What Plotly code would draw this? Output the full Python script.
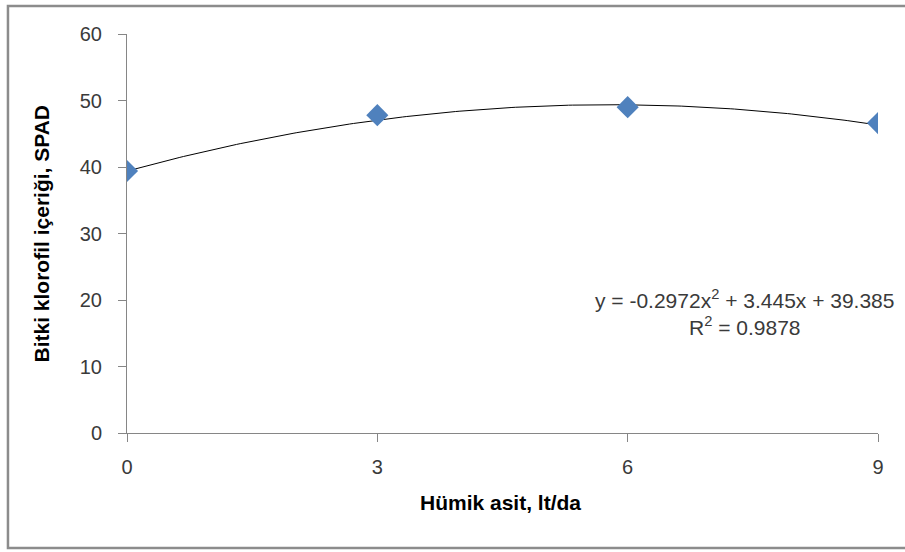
import numpy as np
import plotly.graph_objects as go

# Data
doses = [0, 3, 6, 9]
spad = [39.4, 47.8, 49.0, 46.6]
trend_coeffs = [-0.2972, 3.445, 39.385]  # quadratic trendline as shown on the chart
x_ticks = [0, 3, 6, 9]
y_ticks = [0, 10, 20, 30, 40, 50, 60]
x_title = "Hümik asit, lt/da"
y_title = "Bitki klorofil içeriği, SPAD"
eq_text = "y = -0.2972x<sup>2</sup> + 3.445x + 39.385<br>R<sup>2</sup> = 0.9878"

xs = np.linspace(min(doses), max(doses), 200)
ys = np.polyval(trend_coeffs, xs)

fig = go.Figure()
fig.add_trace(go.Scatter(x=xs, y=ys, mode="lines",
                         line=dict(color="black", width=1), hoverinfo="skip"))
fig.add_trace(go.Scatter(x=doses, y=spad, mode="markers",
                         marker=dict(symbol="diamond", size=17, color="#4F81BD")))

axis_common = dict(showgrid=False, zeroline=False, showline=True, linecolor="#868686",
                   linewidth=1, ticks="outside", tickcolor="#868686", ticklen=8,
                   tickfont=dict(family="Liberation Sans", size=20, color="#3a3a3a"))
fig.update_xaxes(range=[0, 9], tickvals=x_ticks, ticklabelstandoff=8, **axis_common)
fig.update_yaxes(range=[0, 60], tickvals=y_ticks, ticklabelstandoff=12, **axis_common)

fig.update_layout(
    width=905, height=552, showlegend=False,
    paper_bgcolor="white", plot_bgcolor="white",
    margin=dict(l=127, r=27, t=34, b=119),
    font=dict(family="Liberation Sans", color="black"),
    shapes=[dict(type="rect", xref="paper", yref="paper",
                 x0=-0.1585, x1=1.045, y0=-0.2882, y1=1.0702,
                 line=dict(color="#8c8c8c", width=2.5), fillcolor="rgba(0,0,0,0)", layer="below")],
    annotations=[
        dict(text="<b>" + x_title + "</b>", xref="paper", yref="paper",
             x=0.4967, y=-0.1754, showarrow=False, xanchor="center", yanchor="middle",
             font=dict(size=21, color="black")),
        dict(text="<b>" + y_title + "</b>", xref="paper", yref="paper",
             x=-0.1132, y=0.5, showarrow=False, textangle=-90, xanchor="center", yanchor="middle",
             font=dict(size=21, color="black")),
        dict(text=eq_text, xref="paper", yref="paper", x=0.8216, y=0.303,
             showarrow=False, xanchor="center", yanchor="middle", align="center",
             font=dict(size=21, color="#3a3a3a")),
    ],
)

fig.write_html("out.html", config={"displayModeBar": False},
               post_script="document.body.style.margin='0';")
